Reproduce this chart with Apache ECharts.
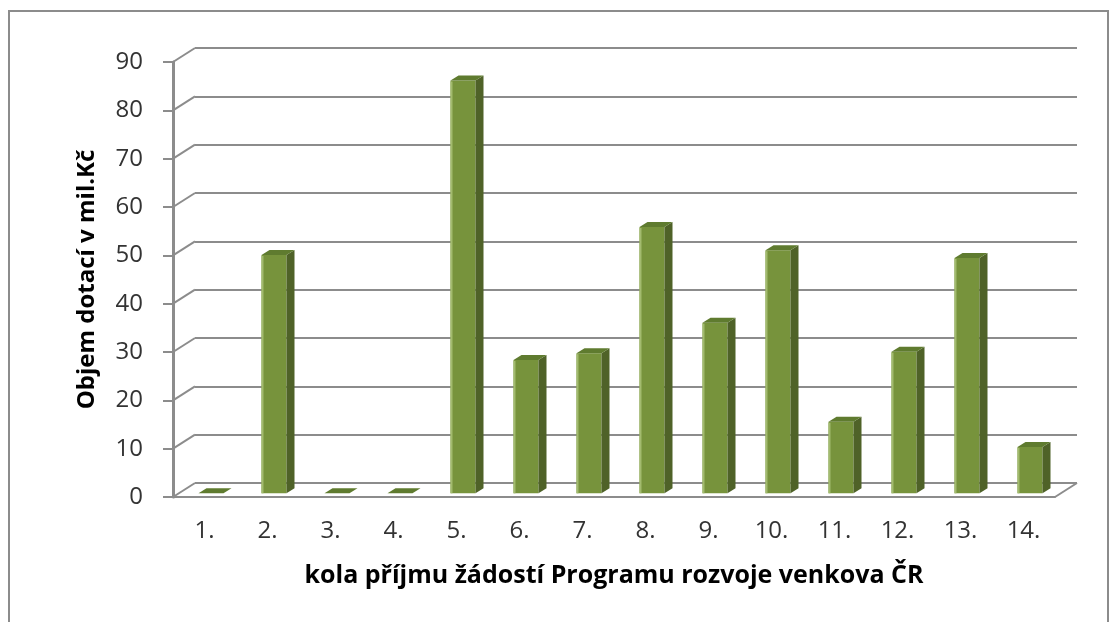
<!DOCTYPE html>
<html>
<head>
<meta charset="utf-8">
<script src="https://cdn.jsdelivr.net/npm/echarts@6/dist/echarts.min.js"></script>
<style>
html,body{margin:0;padding:0;background:#fff;}
#chart{width:1119px;height:622px;}
</style>
</head>
<body>
<div id="chart"></div>
<script>
const categories = ['1.','2.','3.','4.','5.','6.','7.','8.','9.','10.','11.','12.','13.','14.'];
const values = [0, 49.3, 0, 0, 85.4, 27.6, 29.0, 55.1, 35.3, 50.3, 14.8, 29.3, 48.7, 9.6];
const yTicks = [0, 10, 20, 30, 40, 50, 60, 70, 80, 90];
const yAxisTitle = 'Objem dotací v mil.Kč';
const xAxisTitle = 'kola příjmu žádostí Programu rozvoje venkova ČR';

const FONT = '"Open Sans", "Noto Sans", sans-serif';
const GRID_COLOR = '#8c8c8c';
const WALL_DX = 22, WALL_DY = -14;      // 3D depth of the floor / wall
const BAR_SHIFT_X = 6.5, BAR_SHIFT_Y = -3.7; // bar front plane inside the depth
const BAR_W = 25, BAR_DX = 8, BAR_DY = -5;

const chart = echarts.init(document.getElementById('chart'));

const barData = values.map((v, i) => [i, v]);
const tickData = yTicks.map(v => [0, v]);

function renderBar(params, api) {
  const i = api.value(0), v = api.value(1);
  const base = api.coord([i, 0]);
  const top = api.coord([i, v]);
  const x1 = base[0] + BAR_SHIFT_X - BAR_W / 2;
  const x2 = x1 + BAR_W;
  const yb = base[1] + BAR_SHIFT_Y;
  const yt = top[1] + BAR_SHIFT_Y;
  const children = [];
  if (yb - yt > 0.5) {
    children.push({type: 'rect', shape: {x: x1, y: yt, width: BAR_W, height: yb - yt},
      style: {fill: '#77933C'}});
    children.push({type: 'line', shape: {x1: x1 + 1, y1: yt + 1, x2: x1 + 1, y2: yb},
      style: {stroke: '#a3bb6f', lineWidth: 2}});
    children.push({type: 'polygon', shape: {points: [[x2, yt], [x2 + BAR_DX, yt + BAR_DY], [x2 + BAR_DX, yb + BAR_DY], [x2, yb]]},
      style: {fill: '#4F6228'}});
  }
  children.push({type: 'polygon', shape: {points: [[x1, yt], [x2, yt], [x2 + BAR_DX, yt + BAR_DY], [x1 + BAR_DX, yt + BAR_DY]]},
    style: {fill: '#5F7B2F'}});
  return {type: 'group', children};
}

function renderConnector(params, api) {
  const v = api.value(1);
  const p = api.coord([0, v]);
  const band = api.size([1, 0])[0];
  const xL = p[0] - band / 2;
  const children = [{type: 'line', shape: {x1: xL, y1: p[1], x2: xL + WALL_DX, y2: p[1] + WALL_DY},
    style: {stroke: GRID_COLOR, lineWidth: 2}}];
  if (v === 0) {
    const pr = api.coord([categories.length - 1, 0]);
    const xR = pr[0] + band / 2;
    children.push({type: 'line', shape: {x1: xR, y1: pr[1], x2: xR + WALL_DX, y2: pr[1] + WALL_DY},
      style: {stroke: GRID_COLOR, lineWidth: 2}});
  }
  return {type: 'group', children};
}

const option = {
  animation: false,
  backgroundColor: '#fff',
  graphic: [{
    type: 'rect', shape: {x: 9, y: 11, width: 1099, height: 700},
    style: {fill: 'none', stroke: '#8c8c8c', lineWidth: 2}, z: -10
  }],
  grid: [
    {left: 173, top: 62, width: 882, height: 435},
    {left: 195, top: 48, width: 882, height: 435}
  ],
  xAxis: [
    {
      gridIndex: 0, type: 'category', data: categories,
      axisLine: {lineStyle: {color: GRID_COLOR, width: 2}},
      axisTick: {length: 10, lineStyle: {color: GRID_COLOR, width: 3}},
      axisLabel: {fontSize: 24, color: '#333', margin: 22, fontFamily: FONT},
      name: xAxisTitle, nameLocation: 'middle', nameGap: 66,
      nameTextStyle: {fontSize: 25, fontWeight: 'bold', color: '#000', fontFamily: FONT}
    },
    {gridIndex: 1, type: 'category', data: categories, show: false}
  ],
  yAxis: [
    {
      gridIndex: 0, type: 'value', min: 0, max: 90, interval: 10,
      axisLine: {show: true, lineStyle: {color: GRID_COLOR, width: 3}},
      axisTick: {show: true, length: 10, lineStyle: {color: GRID_COLOR, width: 2}},
      splitLine: {show: false},
      axisLabel: {fontSize: 24, color: '#333', margin: 30, fontFamily: FONT},
      name: yAxisTitle, nameLocation: 'middle', nameGap: 74, nameRotate: 90,
      nameTextStyle: {fontSize: 24, fontWeight: 'bold', color: '#000', fontFamily: FONT}
    },
    {
      gridIndex: 1, type: 'value', min: 0, max: 90, interval: 10,
      axisLine: {show: false}, axisTick: {show: false}, axisLabel: {show: false},
      splitLine: {show: true, lineStyle: {color: GRID_COLOR, width: 2}}
    }
  ],
  series: [
    {
      type: 'custom', xAxisIndex: 0, yAxisIndex: 0, data: tickData,
      renderItem: renderConnector, z: 1, silent: true
    },
    {
      type: 'custom', xAxisIndex: 0, yAxisIndex: 0, data: barData,
      encode: {x: 0, y: 1}, renderItem: renderBar, z: 3
    }
  ]
};
chart.setOption(option);
</script>
</body>
</html>
